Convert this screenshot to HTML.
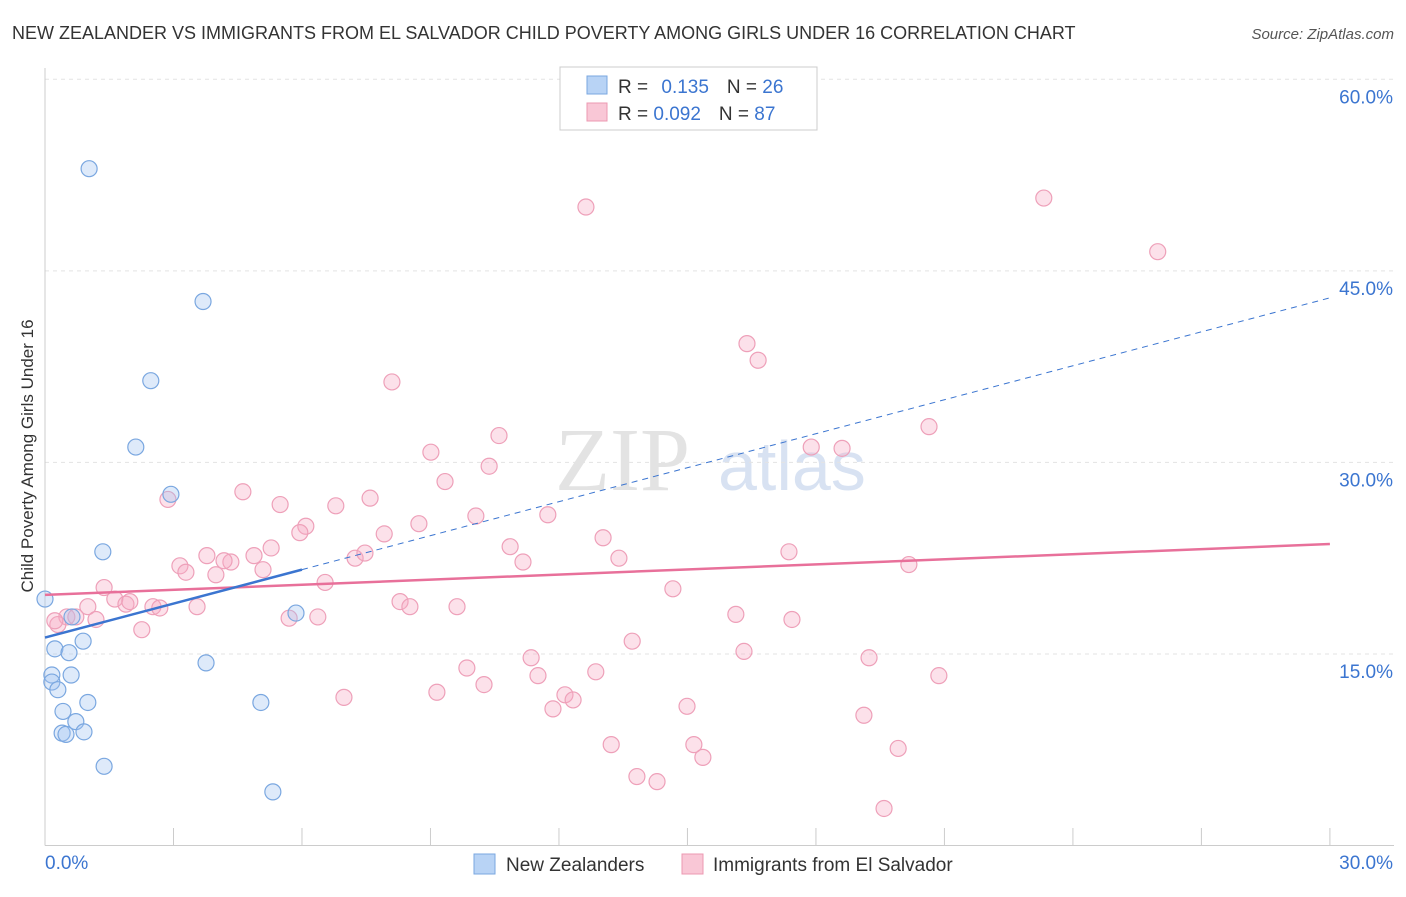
<!DOCTYPE html>
<html><head><meta charset="utf-8"><style>
body{margin:0;background:#fff;width:1406px;height:892px;overflow:hidden;font-family:"Liberation Sans",sans-serif}
</style></head><body>
<svg id="c" width="1406" height="892" xmlns="http://www.w3.org/2000/svg">
<text x="12" y="39" font-size="18" fill="#333">NEW ZEALANDER VS IMMIGRANTS FROM EL SALVADOR CHILD POVERTY AMONG GIRLS UNDER 16 CORRELATION CHART</text>
<text x="1394" y="39" font-size="15" fill="#555" font-style="italic" text-anchor="end">Source: ZipAtlas.com</text>
<text x="555" y="490" font-size="90" fill="#ddd" font-family="Liberation Serif,serif" opacity="0.8">ZIP</text>
<text x="718" y="490" font-size="70" fill="#cfdcf0" opacity="0.8">atlas</text>
<text transform="translate(33,456) rotate(-90)" font-size="17" fill="#333" text-anchor="middle">Child Poverty Among Girls Under 16</text>
<g id="grid"></g><g id="marks"></g>
<g>
<rect x="560" y="67" width="257" height="63" fill="#fff" stroke="#ccc"/>
<rect x="587" y="76" width="20" height="18" fill="#b8d3f5" stroke="#7aa7e0"/>
<rect x="587" y="103" width="20" height="18" fill="#f9c7d6" stroke="#ec98b2"/>
<text x="618" y="93" font-size="19" fill="#333">R = <tspan fill="#3b75d0" dx="8">0.135</tspan><tspan fill="#333" dx="18">N = </tspan><tspan fill="#3b75d0">26</tspan></text>
<text x="618" y="120" font-size="19" fill="#333">R = <tspan fill="#3b75d0">0.092</tspan><tspan fill="#333" dx="18">N = </tspan><tspan fill="#3b75d0">87</tspan></text>
</g>
<g>
<rect x="474" y="854" width="21" height="20" fill="#b8d3f5" stroke="#7aa7e0"/>
<text x="506" y="871" font-size="19" fill="#333">New Zealanders</text>
<rect x="682" y="854" width="21" height="20" fill="#f9c7d6" stroke="#ec98b2"/>
<text x="713" y="871" font-size="19" fill="#333">Immigrants from El Salvador</text>
</g>
</svg>
<script>
const yTicks=[15,30,45,60];
const xTicks=[0,30];
const blueX=[1.03,3.69,2.47,2.12,2.94,1.35,0,0.63,5.86,0.89,0.23,0.56,3.76,0.16,0.61,0.16,0.3,1.0,5.04,0.42,0.72,0.91,0.4,0.49,1.38,5.32];
const blueY=[53.0,42.6,36.4,31.2,27.5,23.0,19.3,17.9,18.2,16.0,15.4,15.1,14.3,13.35,13.35,12.8,12.2,11.2,11.2,10.5,9.7,8.9,8.8,8.7,6.2,4.2];
const pinkX=[12.63,23.32,25.98,16.39,16.65,8.1,10.6,9.01,17.89,18.61,20.64,10.37,9.34,4.62,7.59,2.87,5.49,6.79,10.06,11.74,8.73,6.09,5.95,7.92,13.03,10.86,5.28,3.78,4.88,7.24,7.47,11.16,13.4,17.37,3.15,3.29,4.34,4.18,3.99,5.09,20.17,6.54,1.38,14.66,1.63,1.89,1.98,2.52,2.68,3.55,1.0,0.51,0.3,0.72,1.19,8.29,8.52,9.62,5.7,6.37,16.13,17.44,2.26,13.71,16.32,11.35,19.24,9.85,11.51,10.25,12.86,20.87,6.98,9.15,12.14,12.33,11.86,14.99,19.12,13.22,15.15,15.36,19.92,13.82,14.29,19.59,0.23];
const pinkY=[50.0,50.7,46.5,39.3,38.0,36.3,32.1,30.8,31.2,31.1,32.8,29.7,28.5,27.7,27.2,27.1,26.7,26.6,25.8,25.9,25.2,25.0,24.5,24.4,24.1,23.4,23.3,22.7,22.7,22.5,22.9,22.2,22.5,23.0,21.9,21.4,22.2,22.3,21.2,21.6,22.0,20.6,20.2,20.1,19.3,18.9,19.1,18.7,18.6,18.7,18.7,17.9,17.3,17.9,17.7,19.1,18.7,18.7,17.8,17.9,18.1,17.7,16.9,16.0,15.2,14.7,14.7,13.9,13.3,12.6,13.6,13.3,11.6,12.0,11.8,11.4,10.7,10.9,10.2,7.9,7.9,6.9,7.6,5.4,5.0,2.9,17.6];
const S=document.getElementById('c'),NS='http://www.w3.org/2000/svg';
const sx=v=>45+v*42.83, sy=v=>845.5-v*12.77;
function mk(t,a,p){const e=document.createElementNS(NS,t);for(const k in a)e.setAttribute(k,a[k]);document.getElementById(p).appendChild(e);return e;}
yTicks.forEach(t=>{const l=mk('line',{x1:45,x2:1394,y1:sy(t),y2:sy(t),stroke:'#e3e3e3','stroke-dasharray':'4,4'},'grid');


const tx=mk('text',{x:1393,y:sy(t)+24,'font-size':19,fill:'#3b75d0','text-anchor':'end'},'grid');tx.textContent=t.toFixed(1)+'%';

});
const ax=mk('line',{x1:45,x2:1394,y1:845.5,y2:845.5,stroke:'#ccc'},'grid');


const ay=mk('line',{x1:45,x2:45,y1:68,y2:845.5,stroke:'#ccc'},'grid');


for(let i=0;i<=10;i++){const l=mk('line',{x1:sx(i*3),x2:sx(i*3),y1:828,y2:845.5,stroke:'#ccc'},'grid');

}
xTicks.forEach((t,i)=>{const tx=mk('text',{x:i?1393:45,y:869,'font-size':19,fill:'#3b75d0','text-anchor':i?'end':'start'},'grid');tx.textContent=t.toFixed(1)+'%';

});
pinkX.forEach((x,i)=>{const c=mk('circle',{cx:sx(x),cy:sy(pinkY[i]),r:8,fill:'rgba(245,170,195,0.35)',stroke:'#eea0b9','stroke-width':1.2},'marks');

});
blueX.forEach((x,i)=>{const c=mk('circle',{cx:sx(x),cy:sy(blueY[i]),r:8,fill:'rgba(160,195,240,0.35)',stroke:'#7aa7e0','stroke-width':1.2},'marks');

});
function fit(X,Y){const n=X.length,mx=X.reduce((a,b)=>a+b)/n,my=Y.reduce((a,b)=>a+b)/n;let sxy=0,sxx=0;X.forEach((x,i)=>{sxy+=(x-mx)*(Y[i]-my);sxx+=(x-mx)**2});const b=sxy/sxx;return [my-b*mx,b];}
let [a,b]=fit(pinkX,pinkY);
const pl=mk('line',{x1:sx(0),y1:sy(a),x2:sx(30),y2:sy(a+b*30),stroke:'#e8709a','stroke-width':2.5},'marks');


[a,b]=fit(blueX,blueY);
const bl=mk('line',{x1:sx(0),y1:sy(a),x2:sx(6),y2:sy(a+b*6),stroke:'#3b75d0','stroke-width':2.5},'marks');


const bd=mk('line',{x1:sx(6),y1:sy(a+b*6),x2:sx(30),y2:sy(a+b*30),stroke:'#3b75d0','stroke-width':1,'stroke-dasharray':'6,5'},'marks');


</script>
</body></html>
